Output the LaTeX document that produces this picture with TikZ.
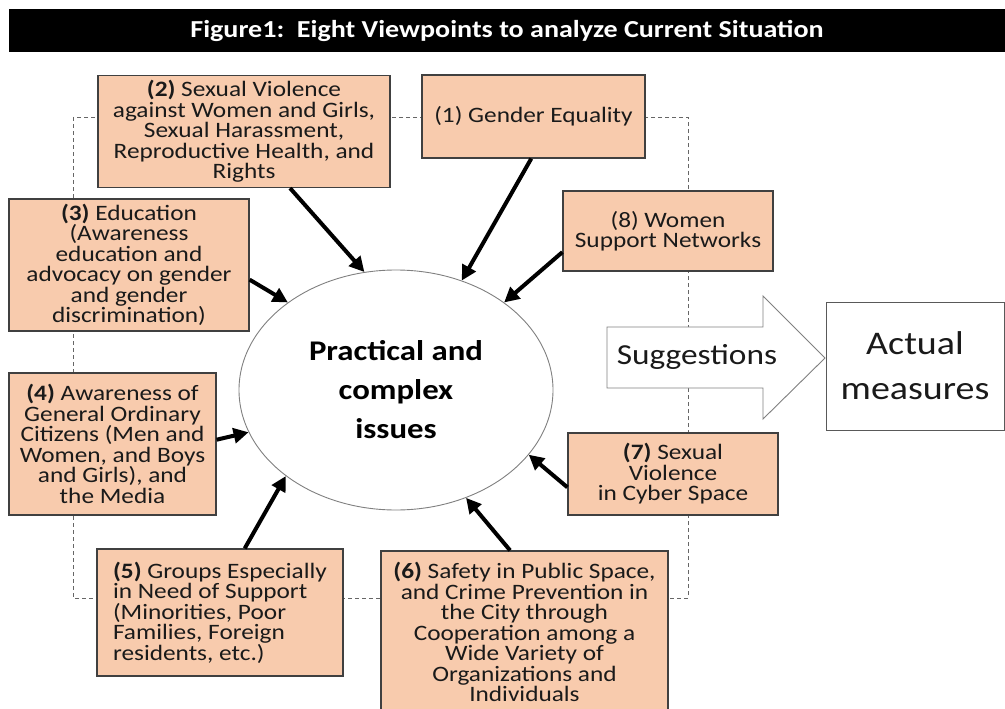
\documentclass[tikz,border=0pt]{standalone}
\usepackage{fontspec}
\setmainfont{Carlito}[FakeStretch=1.15]
\usetikzlibrary{arrows.meta,calc,shapes.geometric}
\definecolor{peach}{HTML}{F8CBAD}
\definecolor{boxline}{HTML}{404040}
\definecolor{ink}{HTML}{1A1A1A}
\tikzset{
  vbox/.style={draw=boxline, line width=1.2pt, fill=peach, inner sep=0pt, align=center,
    text=ink, font=\fontsize{22}{20.5}\selectfont},
  feed/.style={line width=4pt, draw=black, -{Triangle[length=15pt,width=15pt]}},
  frame/.style={draw=gray!80!black, line width=0.8pt, dash pattern=on 4pt off 3pt},
}
\begin{document}
\begin{tikzpicture}[x=1pt,y=-1pt]
\useasboundingbox (0,0) rectangle (1005,709);
\fill[white] (0,0) rectangle (1005,709);

% title bar
\node[fill=black, minimum width=996, minimum height=43, inner sep=0pt, text=white,
  font=\bfseries\fontsize{24.4}{28}\selectfont] (title) at (507,30.5)
  {Figure1:\ \ Eight Viewpoints to analyze Current Situation};

% dashed frame
\draw[frame] (73,117) rectangle (688,598);

% central ellipse
\node[ellipse, draw=gray, line width=0.9pt, fill=white, minimum width=314, minimum height=240,
  inner sep=0pt, align=center, font=\bfseries\fontsize{28.5}{39}\selectfont] (ell) at (396,390)
  {Practical and\\complex\\issues};

% viewpoint boxes
\node[vbox, minimum width=292, minimum height=112] (b2) at (244,131.5)
  {\textbf{(2)} Sexual Violence\\against Women and Girls,\\Sexual Harassment,\\Reproductive Health, and\\Rights};
\node[vbox, minimum width=223, minimum height=83] (b1) at (533.5,116.5)
  {(1) Gender Equality};
\node[vbox, minimum width=210, minimum height=80] (b8) at (668,231)
  {(8) Women\\Support Networks};
\node[vbox, minimum width=240, minimum height=132] (b3) at (129,265)
  {\textbf{(3)} Education\\(Awareness\\education and\\advocacy on gender\\and gender\\discrimination)};
\node[vbox, minimum width=207, minimum height=142] (b4) at (112.5,444)
  {\textbf{(4)} Awareness of\\General Ordinary\\Citizens (Men and\\Women, and Boys\\and Girls), and\\the Media};
\node[vbox, minimum width=210, minimum height=82] (b7) at (673,474)
  {\textbf{(7)} Sexual\\Violence\\in Cyber Space};
\node[vbox, align=left, minimum width=246, minimum height=127] (b5) at (220,612.5)
  {\textbf{(5)} Groups Especially\\in Need of Support\\(Minorities, Poor\\Families, Foreign\\residents, etc.)};
\node[vbox, minimum width=287, minimum height=162] (b6) at (524.5,632)
  {\textbf{(6)} Safety in Public Space,\\and Crime Prevention in\\the City through\\Cooperation among a\\Wide Variety of\\Organizations and\\Individuals};

% arrows into the ellipse
\draw[feed] ($(b2.south west)!0.657!(b2.south east)$) -- (ell.105);
\draw[feed] ($(b1.south west)!0.49!(b1.south east)$) -- (ell.59);
\draw[feed] ($(b8.north west)!0.76!(b8.south west)$) -- (ell.39);
\draw[feed] ($(b3.north east)!0.61!(b3.south east)$) -- (ell.141);
\draw[feed] ($(b4.north east)!0.47!(b4.south east)$) -- (ell.196);
\draw[feed] ($(b5.north west)!0.60!(b5.north east)$) -- (ell.218);
\draw[feed] ($(b6.north west)!0.45!(b6.north east)$) -- (ell.303);
\draw[feed] ($(b7.north west)!0.66!(b7.south west)$) -- (ell.334);

% suggestions arrow
\draw[draw=gray, line width=0.9pt, fill=white]
  (607,327) -- (763,327) -- (763,296) -- (825,358) -- (763,419) -- (763,388) -- (607,388) -- cycle;
\node[font=\fontsize{29}{34}\selectfont, text=ink] (sug) at (697,357) {Suggestions};

% actual measures
\node[draw=gray!70!black, line width=0.9pt, fill=white, minimum width=178, minimum height=128,
  inner sep=0pt, align=center, text=ink, font=\fontsize{33}{45}\selectfont] (act) at (915,366)
  {Actual\\measures};
\end{tikzpicture}
\end{document}
